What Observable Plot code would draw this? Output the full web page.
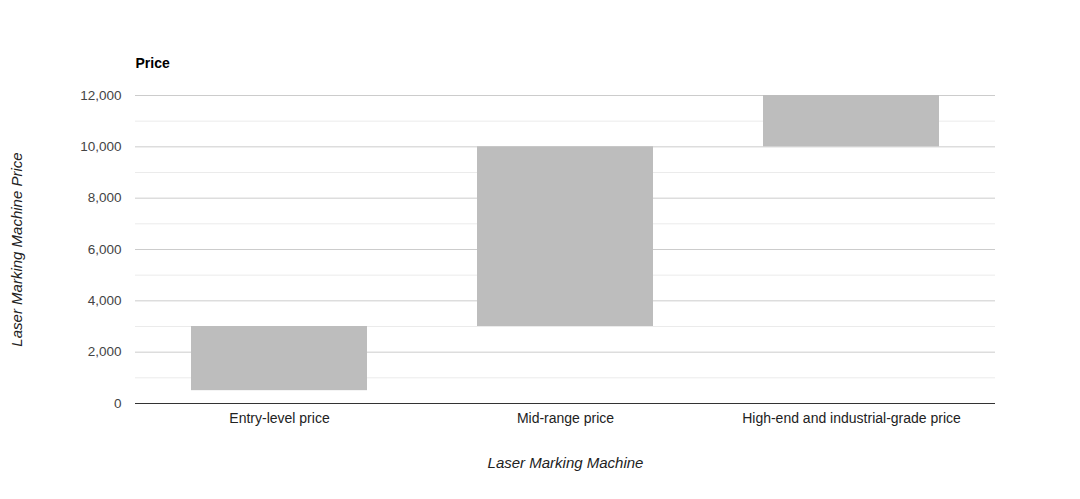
<!DOCTYPE html>
<html><head><meta charset="utf-8">
<script src="https://cdn.jsdelivr.net/npm/d3@7"></script>
<script src="https://cdn.jsdelivr.net/npm/@observablehq/plot@0.6"></script>
<style>
body{margin:0;background:#fff;font-family:Arial,"Liberation Sans",sans-serif;}
</style></head><body><div id="chart"></div>
<script>
const categories = ["Entry-level price", "Mid-range price", "High-end and industrial-grade price"];
const lowValues = [500, 3000, 10000];
const highValues = [3000, 10000, 12000];
const majorTicks = [0, 2000, 4000, 6000, 8000, 10000, 12000];
const minorTicks = [1000, 3000, 5000, 7000, 9000, 11000];

const data = categories.map((c, i) => ({cat: c, lo: lowValues[i], hi: highValues[i]}));

const chart = Plot.plot({
  width: 1080, height: 499,
  marginLeft: 135, marginRight: 85, marginTop: 95, marginBottom: 96,
  style: {fontFamily: "Arial, 'Liberation Sans', sans-serif", fontSize: "14px", color: "#222", background: "#fff"},
  x: {domain: categories, paddingInner: 0.383, paddingOuter: 0.1915, label: null},
  y: {domain: [0, 12000], label: null},
  marks: [
    Plot.ruleY(minorTicks, {stroke: "#ebebeb", strokeWidth: 1}),
    Plot.ruleY(majorTicks.filter(d => d > 0), {stroke: "#cccccc", strokeWidth: 1}),
    Plot.barY(data, {x: "cat", y1: "lo", y2: "hi", fill: "#bdbdbd"}),
    Plot.ruleY([0], {stroke: "#333", strokeWidth: 1}),
    Plot.axisY({ticks: majorTicks, tickSize: 0, tickPadding: 14, tickFormat: d3.format(","), label: null, fontSize: 13.5, fill: "#444"}),
    Plot.axisX({tickSize: 0, tickPadding: 10, label: null, fontSize: 14, fill: "#222"}),
    Plot.text(["Price"], {frameAnchor: "top-left", dy: -37, fontWeight: "bold", fontSize: 14, textAnchor: "start", fill: "#000"}),
    Plot.text(["Laser Marking Machine"], {frameAnchor: "bottom", dy: 64, fontStyle: "italic", fontSize: 15, fill: "#222"}),
    Plot.text(["Laser Marking Machine Price"], {frameAnchor: "left", dx: -118, rotate: -90, textAnchor: "middle", fontStyle: "italic", fontSize: 15, fill: "#222"})
  ]
});
document.getElementById("chart").appendChild(chart);
</script></body></html>
